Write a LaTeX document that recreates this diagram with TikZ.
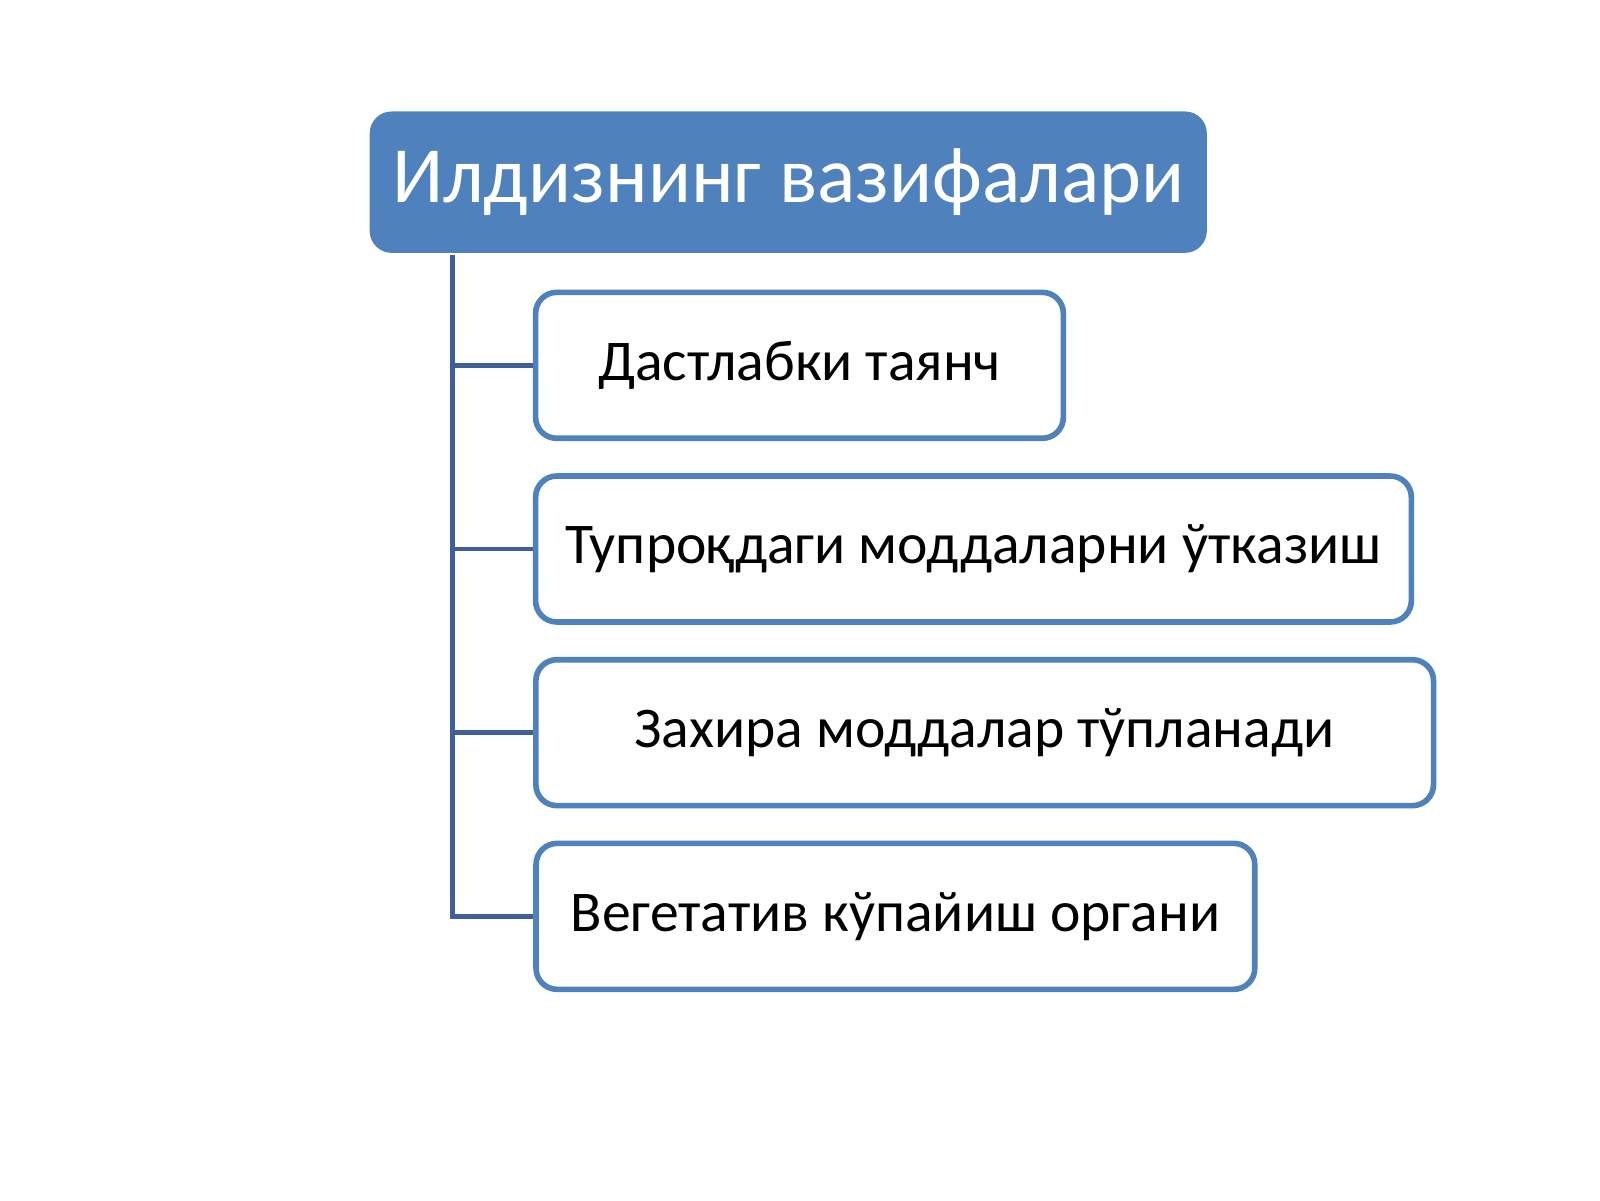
\documentclass[tikz,border=0pt]{standalone}
\usepackage{fontspec}
\setmainfont{Carlito}
\usetikzlibrary{calc}
\definecolor{boxblue}{HTML}{4F81BD}
\definecolor{linkblue}{HTML}{3F5F9A}
\tikzset{
  rootbox/.style={fill=boxblue, draw=boxblue, rounded corners=6pt, text=white,
    font=\fontsize{22.7}{27}\selectfont, inner sep=0pt},
  itembox/.style={draw=boxblue, line width=1.6pt, fill=white, rounded corners=6pt,
    font=\fontsize{16.4}{20}\selectfont, inner sep=0pt},
  link/.style={draw=linkblue, line width=1.4pt}
}
\begin{document}
\begin{tikzpicture}[x=0.010204cm, y=-0.010204cm]
  \useasboundingbox (0,0) rectangle (1568,1176);
  % root
  \node[rootbox, minimum width=8.36cm, minimum height=1.40cm] (root) at (772.5,178.5) {Илдизнинг вазифалари};
  % items
  \node[itembox, minimum width=5.28cm, minimum height=1.46cm] (c1) at (783.5,358) {Дастлабки таянч};
  \node[itembox, minimum width=8.76cm, minimum height=1.46cm] (c2) at (954,538) {Тупроқдаги моддаларни ўтказиш};
  \node[itembox, minimum width=8.98cm, minimum height=1.46cm] (c3) at (965,718) {Захира моддалар тўпланади};
  \node[itembox, minimum width=7.19cm, minimum height=1.46cm] (c4) at (877.5,898) {Вегетатив кўпайиш органи};
  % connectors
  \coordinate (top) at (443,250);
  \draw[link] (top) |- (c4.west);
  \foreach \c in {c1,c2,c3}
    \draw[link] (top |- \c.west) -- (\c.west);
\end{tikzpicture}
\end{document}
